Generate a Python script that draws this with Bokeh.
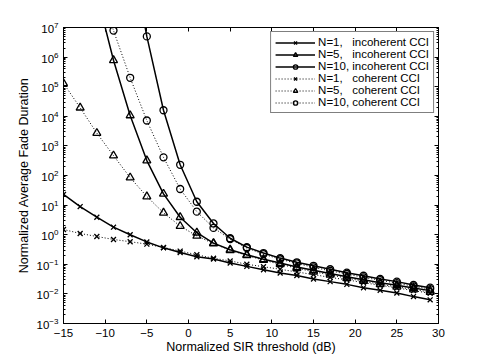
from bokeh.plotting import figure
from bokeh.models import (FixedTicker, LogAxis, LinearAxis, Legend, LegendItem,
                          Range1d, CustomJSTickFormatter)
from bokeh.embed import file_html
from bokeh.resources import INLINE

# ---------------- data ----------------
sir_full = [-15, -13, -11, -9, -7, -5, -3, -1, 1, 3, 5, 7, 9, 11, 13, 15, 17, 19, 21, 23, 25, 27, 29]

n1_incoh = [23, 8.9, 3.9, 1.8, 1.0, 0.57, 0.36, 0.25, 0.18, 0.15, 0.11, 0.085, 0.065,
            0.051, 0.042, 0.032, 0.026, 0.021, 0.016, 0.0132, 0.0107, 0.0081, 0.0063]
n1_coh = [1.5, 1.1, 0.87, 0.69, 0.58, 0.48, 0.37, 0.28, 0.21, 0.16, 0.13, 0.10, 0.083,
          0.068, 0.055, 0.045, 0.036, 0.030, 0.024, 0.0195, 0.016, 0.0129, 0.0105]

sir_n5_incoh = [-11, -9, -7, -5, -3, -1, 1, 3, 5, 7, 9, 11, 13, 15, 17, 19, 21, 23, 25, 27, 29]
n5_incoh = [1.3e8, 7.8e5, 1.07e4, 320, 24, 3.9, 1.17, 0.52, 0.31, 0.21, 0.148, 0.11, 0.081,
            0.063, 0.049, 0.038, 0.030, 0.024, 0.0195, 0.0158, 0.0129]

n5_coh = [1.3e5, 1.95e4, 2.7e3, 470, 85, 19.5, 5.5, 1.95, 0.91, 0.50, 0.30, 0.20, 0.138,
          0.100, 0.074, 0.056, 0.044, 0.034, 0.027, 0.021, 0.0174, 0.0141, 0.0115]

sir_n10_incoh = [-7, -5, -3, -1, 1, 3, 5, 7, 9, 11, 13, 15, 17, 19, 21, 23, 25, 27, 29]
n10_incoh = [5e9, 5e6, 1.6e4, 230, 13, 2.4, 0.76, 0.38, 0.24, 0.162, 0.117, 0.089, 0.068,
             0.052, 0.041, 0.032, 0.026, 0.020, 0.0162]

sir_n10_coh = [-11, -9, -7, -5, -3, -1, 1, 3, 5, 7, 9, 11, 13, 15, 17, 19, 21, 23, 25, 27, 29]
n10_coh = [4e8, 7.9e6, 2e5, 7.2e3, 410, 35, 6.0, 1.7, 0.71, 0.355, 0.22, 0.148, 0.107,
           0.079, 0.060, 0.047, 0.036, 0.029, 0.023, 0.018, 0.0145]

x_ticks = [-15, -10, -5, 0, 5, 10, 15, 20, 25, 30]
x_tick_labels = ["\u221215", "\u221210", "\u22125", "0", "5", "10", "15", "20", "25", "30"]
y_ticks = [1e-3, 1e-2, 1e-1, 1e0, 1e1, 1e2, 1e3, 1e4, 1e5, 1e6, 1e7]
y_minor = [m * t for t in y_ticks[:-1] for m in range(2, 10)]

labels = ["N=1,   incoherent CCI", "N=5,   incoherent CCI", "N=10, incoherent CCI",
          "N=1,   coherent CCI", "N=5,   coherent CCI", "N=10, coherent CCI"]

FONT = "Liberation Sans"

p = figure(width=484, height=363, x_range=Range1d(-15, 30), y_range=Range1d(1e-3, 1e7),
           y_axis_type="log", output_backend="svg", toolbar_location=None,
           min_border_left=63, min_border_right=46, min_border_top=27, min_border_bottom=40)
p.xgrid.visible = False
p.ygrid.visible = False
p.outline_line_color = "black"
p.background_fill_color = "white"
p.border_fill_color = "white"

# axes styling
xa = p.xaxis[0]
xa.ticker = FixedTicker(ticks=x_ticks)
xa.major_label_overrides = {t: l for t, l in zip(x_ticks, x_tick_labels)}
xa.major_tick_in = 4
xa.major_tick_out = 0
xa.minor_tick_in = 0
xa.minor_tick_out = 0
xa.axis_label = "Normalized SIR threshold (dB)"

ya = p.yaxis[0]
ya.ticker = FixedTicker(ticks=y_ticks, minor_ticks=y_minor)
ya.major_tick_in = 4
ya.major_tick_out = 0
ya.minor_tick_in = 2
ya.minor_tick_out = 0
ya.axis_label = "Normalized Average Fade Duration"

for ax in (xa, ya):
    ax.axis_line_color = "black"
    ax.major_tick_line_color = "black"
    ax.minor_tick_line_color = "black"
    ax.major_label_text_font = FONT
    ax.major_label_text_font_size = "11.5px"
    ax.major_label_text_color = "black"
    ax.axis_label_text_font = FONT
    ax.axis_label_text_font_size = "12.5px"
    ax.axis_label_text_font_style = "normal"
    ax.axis_label_text_color = "black"
xa.major_label_standoff = 5
xa.axis_label_standoff = 0
ya.major_label_standoff = 5
ya.axis_label_standoff = 3

blank = CustomJSTickFormatter(code="return '';")
right = LogAxis(ticker=FixedTicker(ticks=y_ticks, minor_ticks=y_minor), formatter=blank,
                major_tick_in=4, major_tick_out=0, minor_tick_in=2, minor_tick_out=0,
                major_label_standoff=0)
top = LinearAxis(ticker=FixedTicker(ticks=x_ticks), formatter=blank,
                 major_tick_in=4, major_tick_out=0, minor_tick_in=0, minor_tick_out=0,
                 major_label_standoff=0)
p.add_layout(right, "right")
p.add_layout(top, "above")

# curves
series = [
    (sir_full, n1_incoh, "solid", "x"),
    (sir_n5_incoh, n5_incoh, "solid", "triangle"),
    (sir_n10_incoh, n10_incoh, "solid", "circle"),
    (sir_full, n1_coh, "1 2", "x"),
    (sir_full, n5_coh, "1 2", "triangle"),
    (sir_n10_coh, n10_coh, "1 2", "circle"),
]
items = []
for (xs, ys, dash, mk), lab in zip(series, labels):
    lw = 1.5 if dash == "solid" else 1.0
    lr = p.line(xs, ys, line_color="black", line_width=lw, line_dash=dash)
    size = {"x": 7, "triangle": 8, "circle": 7}[mk]
    sr = p.scatter(xs, ys, marker=mk, size=size, line_color="black", line_width=1.3,
                   fill_color=None)
    items.append(LegendItem(label=lab, renderers=[lr, sr]))

legend = Legend(items=items, location="top_right", border_line_color="black",
                border_line_width=1, background_fill_color="white", background_fill_alpha=1,
                label_text_font=FONT, label_text_font_size="11.5px", label_text_color="black",
                glyph_width=40, glyph_height=11, label_height=11, spacing=0, padding=4,
                margin=4, label_standoff=3)
p.add_layout(legend)

open("out.html", "w").write(file_html(p, INLINE))
